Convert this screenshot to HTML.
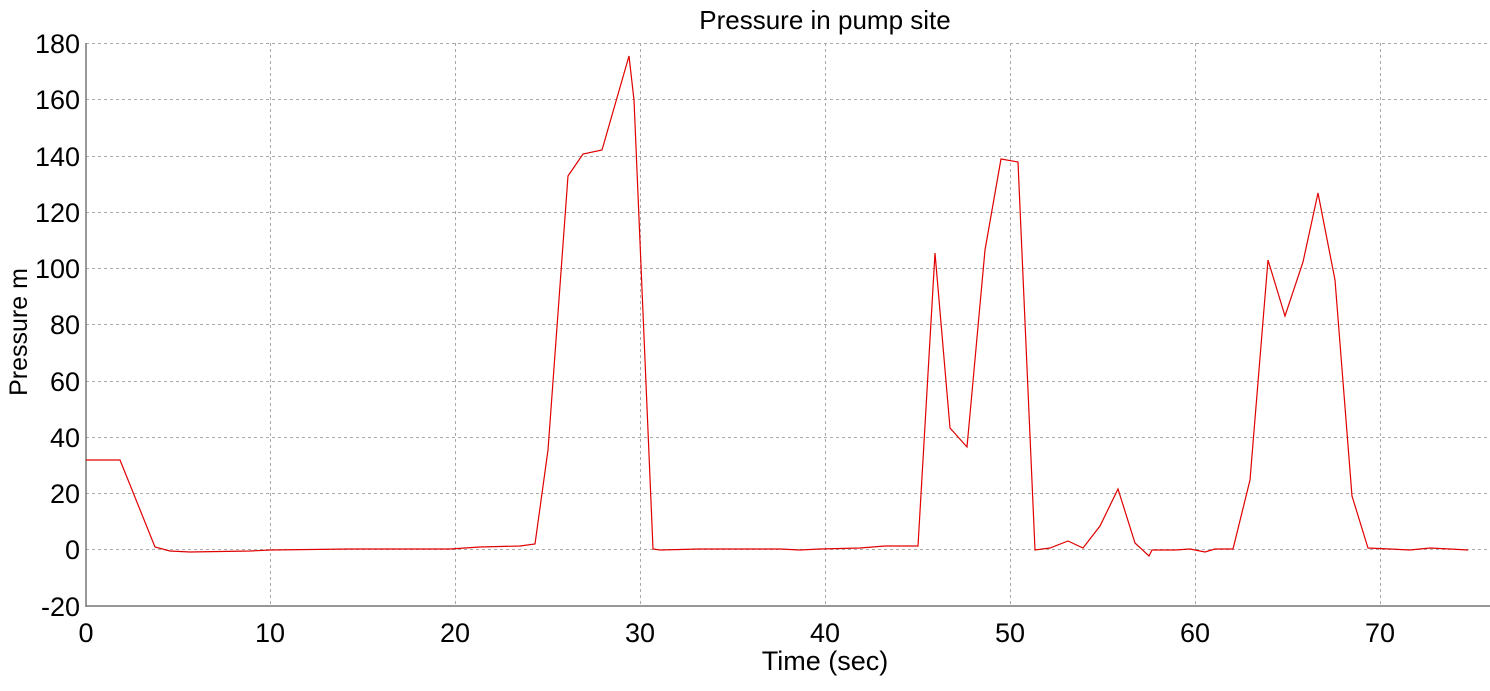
<!DOCTYPE html>
<html><head><style>body{margin:0;background:#fff}svg{display:block}text{font-family:"Liberation Sans",Arial,sans-serif;fill:#000}</style></head>
<body>
<svg width="1490" height="691" viewBox="0 0 1490 691" xmlns="http://www.w3.org/2000/svg">
<g stroke="#aaa" stroke-dasharray="3,3" stroke-width="1">
<line x1="86" x2="1488" y1="43.5" y2="43.5"/><line x1="86" x2="1488" y1="99.5" y2="99.5"/><line x1="86" x2="1488" y1="156.5" y2="156.5"/><line x1="86" x2="1488" y1="212.5" y2="212.5"/><line x1="86" x2="1488" y1="268.5" y2="268.5"/><line x1="86" x2="1488" y1="324.5" y2="324.5"/><line x1="86" x2="1488" y1="381.5" y2="381.5"/><line x1="86" x2="1488" y1="437.5" y2="437.5"/><line x1="86" x2="1488" y1="493.5" y2="493.5"/><line x1="86" x2="1488" y1="549.5" y2="549.5"/>
<line x1="270.5" x2="270.5" y1="43" y2="606"/><line x1="455.5" x2="455.5" y1="43" y2="606"/><line x1="640.5" x2="640.5" y1="43" y2="606"/><line x1="825.5" x2="825.5" y1="43" y2="606"/><line x1="1010.5" x2="1010.5" y1="43" y2="606"/><line x1="1195.5" x2="1195.5" y1="43" y2="606"/><line x1="1380.5" x2="1380.5" y1="43" y2="606"/>
</g>
<g stroke="#777" stroke-width="1.5"><line x1="86" y1="43" x2="86" y2="607"/><line x1="86" y1="606" x2="1490" y2="606"/></g>
<polyline fill="none" stroke="#e00000" stroke-width="1.2" points="86,460 120,460 155,547 170,551 190,552 250,551 270,550 350,549 450,549 480,547 520,546 535,544 548,450 568,176 583,154 602,150 629,56 634,100 653,549 660,550 700,549 780,549 800,550 820,549 860,548 885,546 918,546 935,253 950,428 967,447 985,250 1001,159 1018,162 1035,550 1050,548 1068,541 1083,548 1100,526 1118,489 1135,543 1149,556 1152,550 1175,550 1190,549 1205,552 1215,549 1233,549 1250,480 1268,260 1285,316 1303,262 1318,193 1335,280 1352,496 1368,548 1390,549 1410,550 1430,548 1450,549 1468,550"/>
<text x="825" y="29" font-size="26" text-anchor="middle">Pressure in pump site</text>
<g font-size="27" text-anchor="end">
<text x="80" y="53">180</text><text x="80" y="109">160</text><text x="80" y="166">140</text><text x="80" y="222">120</text><text x="80" y="278">100</text><text x="80" y="334">80</text><text x="80" y="391">60</text><text x="80" y="447">40</text><text x="80" y="503">20</text><text x="80" y="559">0</text><text x="80" y="616">-20</text>
</g>
<g font-size="27" text-anchor="middle">
<text x="86" y="642">0</text><text x="270" y="642">10</text><text x="455" y="642">20</text><text x="640" y="642">30</text><text x="825" y="642">40</text><text x="1010" y="642">50</text><text x="1195" y="642">60</text><text x="1380" y="642">70</text>
</g>
<text x="825" y="670" font-size="27" text-anchor="middle">Time (sec)</text>
<text transform="translate(27,332) rotate(-90)" font-size="25" text-anchor="middle">Pressure m</text>
</svg>
</body></html>
